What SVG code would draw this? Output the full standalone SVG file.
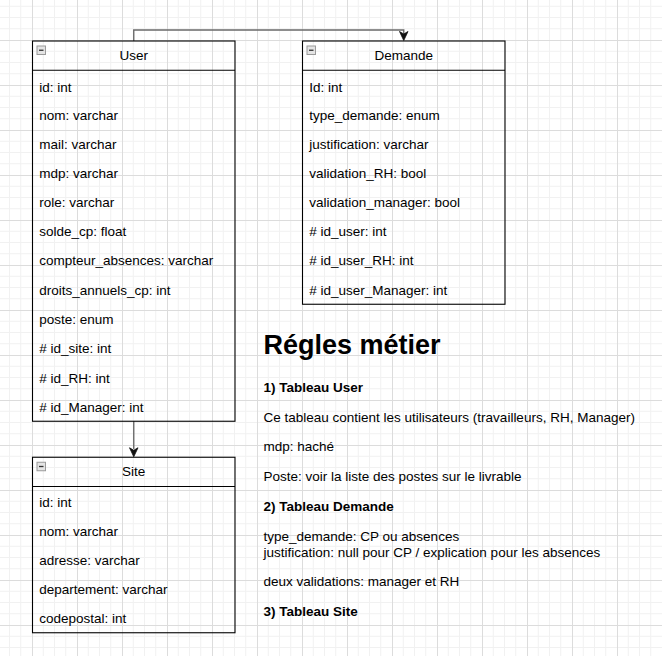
<svg xmlns="http://www.w3.org/2000/svg" width="662" height="656" viewBox="0 0 662 656">
<style>
text{font-family:"Liberation Sans",Arial,sans-serif;fill:#000;}
.t{font-size:13.5px;}
.h{font-size:13.5px;text-anchor:middle;}
.b{font-size:13.5px;font-weight:bold;}
.title{font-size:27px;font-weight:bold;}
.box{fill:none;stroke:#000;stroke-width:1.1;}
.sep{stroke:#000;stroke-width:1.1;}
.icon{fill:#e4e4e4;stroke:#9a9a9a;stroke-width:1;}
.conn{fill:none;stroke:#6a6a6a;stroke-width:1.4;}
</style>
<defs>
<pattern id="grid" width="45" height="45" patternUnits="userSpaceOnUse" x="32" y="40">
<path d="M11.25 0V45M22.5 0V45M33.75 0V45M0 11.25H45M0 22.5H45M0 33.75H45" stroke="#f1f1f1" stroke-width="1" fill="none"/>
<path d="M0.5 0V45M0 0.5H45" stroke="#dcdcdc" stroke-width="1" fill="none"/>
</pattern>
<g id="collapse">
<rect class="icon" x="0.5" y="0.5" width="8.5" height="8.5"/>
<path d="M2.5 4.75H7" stroke="#333" stroke-width="1.3"/>
</g>
</defs>
<rect width="662" height="656" fill="#fff"/>
<rect width="662" height="656" fill="url(#grid)"/>

<g id="connectors">
<path class="conn" d="M133.75 41V30H403.75V34"/>
<path d="M403.75 40.5L399.5 31.5L403.75 34L408 31.5Z" fill="#111" stroke="#111" stroke-width="0.8"/>
<path class="conn" d="M133.75 421.25V449"/>
<path d="M133.75 456.75L129.5 447.75L133.75 450.25L138 447.75Z" fill="#111" stroke="#111" stroke-width="0.8"/>
</g>

<g id="user">
<rect class="box" x="32.5" y="41" width="202.5" height="380.25"/>
<line class="sep" x1="32.5" y1="70.25" x2="235" y2="70.25"/>
<use href="#collapse" x="36.5" y="45.5"/>
<text class="h" x="133.75" y="60">User</text>
<text class="t" x="39.25" y="91.7">id: int</text>
<text class="t" x="39.25" y="119.5">nom: varchar</text>
<text class="t" x="39.25" y="149">mail: varchar</text>
<text class="t" x="39.25" y="178">mdp: varchar</text>
<text class="t" x="39.25" y="207.3">role: varchar</text>
<text class="t" x="39.25" y="235.5">solde_cp: float</text>
<text class="t" x="39.25" y="265">compteur_absences: varchar</text>
<text class="t" x="39.25" y="294.5">droits_annuels_cp: int</text>
<text class="t" x="39.25" y="324">poste: enum</text>
<text class="t" x="39.25" y="352.7"># id_site: int</text>
<text class="t" x="39.25" y="382.5"># id_RH: int</text>
<text class="t" x="39.25" y="411.7"># id_Manager: int</text>
</g>

<g id="demande">
<rect class="box" x="302.5" y="41" width="202.5" height="263.25"/>
<line class="sep" x1="302.5" y1="70.25" x2="505" y2="70.25"/>
<use href="#collapse" x="306.5" y="45.5"/>
<text class="h" x="403.75" y="60">Demande</text>
<text class="t" x="309.25" y="91.7">Id: int</text>
<text class="t" x="309.25" y="119.5">type_demande: enum</text>
<text class="t" x="309.25" y="149">justification: varchar</text>
<text class="t" x="309.25" y="178">validation_RH: bool</text>
<text class="t" x="309.25" y="207.3">validation_manager: bool</text>
<text class="t" x="309.25" y="235.5"># id_user: int</text>
<text class="t" x="309.25" y="265"># id_user_RH: int</text>
<text class="t" x="309.25" y="294.5"># id_user_Manager: int</text>
</g>

<g id="site">
<rect class="box" x="32.5" y="457.25" width="202.5" height="175.5"/>
<line class="sep" x1="32.5" y1="486.5" x2="235" y2="486.5"/>
<use href="#collapse" x="36.5" y="461.75"/>
<text class="h" x="133.75" y="476.25">Site</text>
<text class="t" x="39.25" y="507">id: int</text>
<text class="t" x="39.25" y="535.7">nom: varchar</text>
<text class="t" x="39.25" y="565">adresse: varchar</text>
<text class="t" x="39.25" y="594">departement: varchar</text>
<text class="t" x="39.25" y="622.5">codepostal: int</text>
</g>

<g id="regles">
<text class="title" x="263.5" y="354.3">Régles métier</text>
<text class="b" x="263.5" y="392.3">1) Tableau User</text>
<text class="t" x="263.5" y="422.3">Ce tableau contient les utilisateurs (travailleurs, RH, Manager)</text>
<text class="t" x="263.5" y="450.5">mdp: haché</text>
<text class="t" x="263.5" y="480.7">Poste: voir la liste des postes sur le livrable</text>
<text class="b" x="263.5" y="510.7">2) Tableau Demande</text>
<text class="t" x="263.5" y="541">type_demande: CP ou absences</text>
<text class="t" x="263.5" y="556.7">justification: null pour CP / explication pour les absences</text>
<text class="t" x="263.5" y="586">deux validations: manager et RH</text>
<text class="b" x="263.5" y="616">3) Tableau Site</text>
</g>
</svg>
